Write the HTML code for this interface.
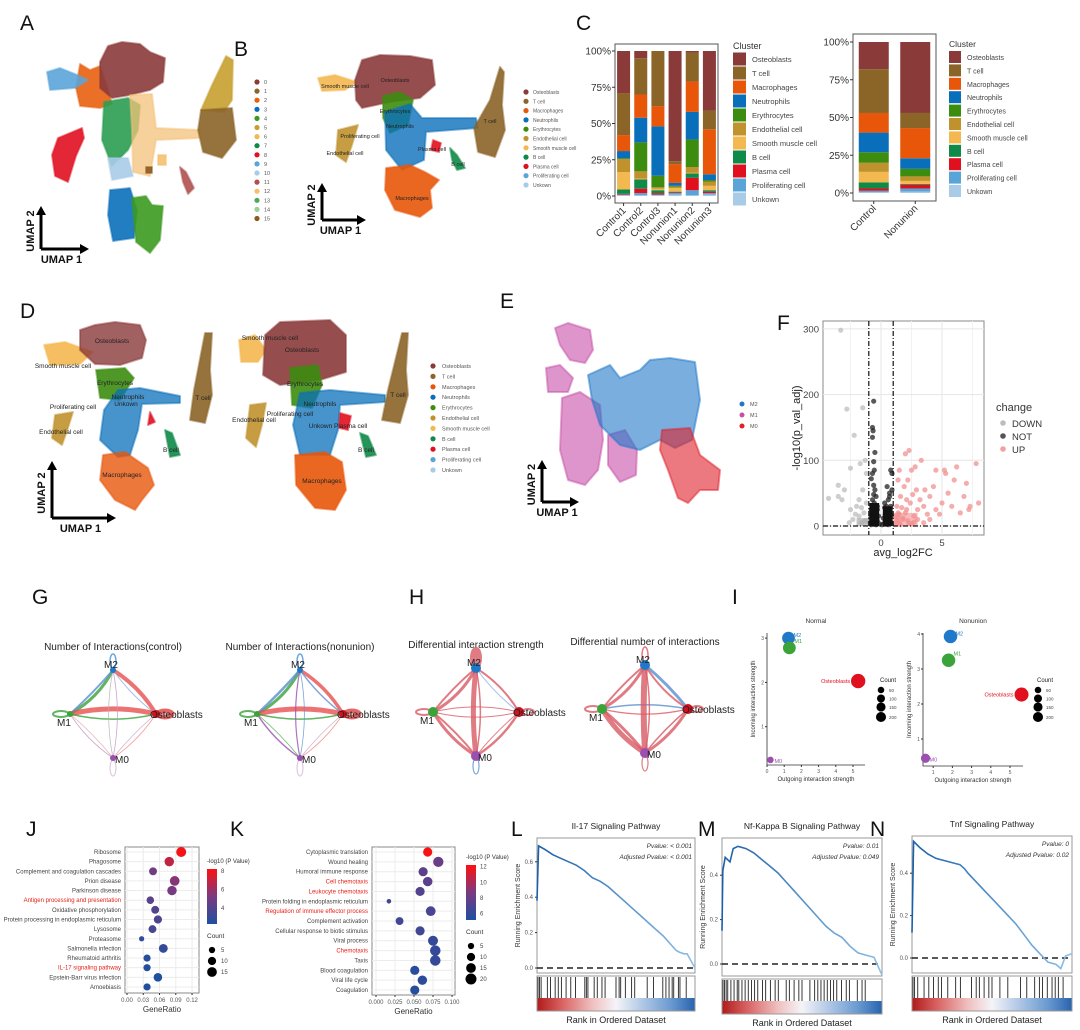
<!DOCTYPE html>
<html><head><meta charset="utf-8"><title>Figure</title>
<style>
html,body{margin:0;padding:0;background:#fff;}
svg{display:block;font-family:"Liberation Sans",Arial,sans-serif;}
</style></head>
<body>
<svg id="fig" width="1080" height="1030" viewBox="0 0 1080 1030" xmlns="http://www.w3.org/2000/svg">
<defs>
<linearGradient id="rankGrad" x1="0" x2="1" y1="0" y2="0">
<stop offset="0" stop-color="#b01c1c"/><stop offset="0.15" stop-color="#d86060"/><stop offset="0.35" stop-color="#f0c0c0"/><stop offset="0.5" stop-color="#f4f4f8"/><stop offset="0.65" stop-color="#b8cce8"/><stop offset="0.85" stop-color="#6a9ad0"/><stop offset="1" stop-color="#2a64b0"/>
</linearGradient>
<linearGradient id="cbJ" x1="0" x2="0" y1="1" y2="0"><stop offset="0" stop-color="#1f4fa0"/><stop offset="0.5" stop-color="#7a3a80"/><stop offset="1" stop-color="#ff1010"/></linearGradient>
</defs>
<g id="labels" font-size="21" fill="#111">
<text x="20" y="30">A</text>
<text x="234" y="56">B</text>
<text x="576" y="30">C</text>
<text x="20" y="318">D</text>
<text x="500" y="308">E</text>
<text x="777" y="330">F</text>
<text x="32" y="604">G</text>
<text x="409" y="604">H</text>
<text x="732" y="604">I</text>
<text x="26" y="836">J</text>
<text x="230" y="836">K</text>
<text x="511" y="836">L</text>
<text x="698" y="836">M</text>
<text x="870" y="836">N</text>
</g>
<g id="umaps"></g>
<g id="panelC"></g>
<g id="panelF"></g>
<g id="panelGH"></g>
<g id="panelI"></g>
<g id="panelJK"></g>
<g id="panelLMN"></g>
</svg>
<script>
// ---------- Data: Panel C ----------
const clusterNames = ["Osteoblasts","T cell","Macrophages","Neutrophils","Erythrocytes","Endothelial cell","Smooth muscle cell","B cell","Plasma cell","Proliferating cell","Unkown"];
const sampleNames = ["Control1","Control2","Control3","Nonunion1","Nonunion2","Nonunion3"];
const pctControl1 = [29,29,11,5,0.5,9,12,3,0.5,0.5,0.5];
const pctControl2 = [5,25,16,17,20,5,0.5,6.5,3,1.5,0.5];
const pctControl3 = [0,38,14,34,8,1,1,2,1,0.5,0.5];
const pctNonunion1 = [76,2,13,2,0.5,1,2.5,0.5,0.5,1,1];
const pctNonunion2 = [1,20,21,19,19,4,0.5,3,8.5,3.5,0.5];
const pctNonunion3 = [41,13,31,4,1,3,3,1,1,1,1];
const groupNames = ["Control","Nonunion"];
const pctControl = [18,29,13,13,7,6,7,4,1.5,1,0.5];
const pctNonunion = [47,10,20,7,5,3,2,0.5,2.5,2,1];
const pctTicks = [0,25,50,75,100];
// ---------- Data: Panel F ----------
const upX = [1.5,1.8,2,2.2,1.3,1.6,2.4,2.7,3,3.2,2.9,3.5,3.8,4,4.3,4.5,5,5.3,5.5,6,6.2,6.5,7,7.3,7.8,8,1.4,1.5,2,2.3,2.5,2.8,3.3,4.5,5.2,1.2,1.4,1.7,2.1,2.6,3.6,4.8,5.8,6.8,1.9,2.2,7.2,3,4,1.6,2.5,3.5,1.3,1.5,1.8,2.1,1.2,1.4,2.3,2.7];
const upY = [5,12,20,8,30,45,35,15,25,40,55,30,18,45,60,25,35,80,50,70,90,20,65,30,95,35,70,85,110,115,85,90,100,85,85,15,20,28,40,48,55,18,30,45,60,70,25,10,10,2,3,5,8,18,10,25,3,12,4,6];
const downX = [-3.3,-2.8,-1.5,-2.2,-2.5,-1.7,-3.5,-3.5,-4.3,-3,-2.5,-2,-1.8,-1.5,-1.3,-1.2,-1.8,-2.3,-1.4,-2.6,-1.6,-3.2,-1.2,-1.3,-1.6,-2.1];
const downY = [298,178,180,138,88,95,62,45,42,55,25,30,40,55,100,80,15,10,20,5,5,40,35,8,28,18];
const notX = [-0.6,-0.7,-0.65,-0.7,-0.5,-0.6,-0.55,-0.7,-0.8,-0.6,-0.5,-0.4,-0.7,-0.3,-0.8,-0.5,-0.2,-0.6,-0.9,-0.4,-0.1,0.1,0.3,0.5,0.7,0.4,0.8,0.6,0.3,0.9,0.7,0.8,0.9,0.5,0.2,-0.3,0.6,-0.65,-0.45,0.45,-0.75,-0.55,-0.35,-0.85,0.35,0.55,0.75,0.85,-0.6,-0.4,0.5,0.65,-0.7,-0.5,0.4,0.6,-0.8,0.8,-0.3,0.3,-0.6,0.7];
const notY = [190,150,145,135,112,98,85,80,72,62,55,45,40,30,25,20,15,10,5,5,3,2,5,10,15,20,30,40,35,55,50,85,80,60,12,8,25,30,25,30,18,35,15,12,18,22,8,15,3,2,3,5,8,12,6,2,2,5,25,28,48,45];
const volXTicks = [0,5];
const volYTicks = [0,100,200,300];
// ---------- Data: Panel I ----------
const popNames = ["M2","M1","Osteoblasts","M0"];
const normalOut = [1.25,1.3,5.3,0.2];
const normalIn = [3.0,2.78,2.03,0.25];
const normalCount = [150,150,200,20];
const nonunionOut = [1.9,1.8,5.6,0.6];
const nonunionIn = [3.93,3.25,2.27,0.45];
const nonunionCount = [170,170,190,60];
// ---------- Data: Panel J ----------
const termsJ = ["Ribosome","Phagosome","Complement and coagulation cascades","Prion disease","Parkinson disease","Antigen processing and presentation","Oxidative phosphorylation","Protein processing in endoplasmic reticulum","Lysosome","Proteasome","Salmonella infection","Rheumatoid arthritis","IL-17 signaling pathway","Epstein-Barr virus infection","Amoebiasis"];
const ratioJ = [0.10,0.078,0.048,0.088,0.083,0.043,0.052,0.057,0.047,0.027,0.067,0.037,0.037,0.057,0.037];
const pvalJ = [8,6.8,5,5.5,5.2,4.2,4,3.8,3.6,3,3,2.5,2.5,2.4,2.4];
const countJ = [16,14,9,15,14,8,9,10,9,3,12,7,7,11,7];
const redJ = ["Antigen processing and presentation","IL-17 signaling pathway"];
const xTicksJ = [0,0.03,0.06,0.09,0.12];
// ---------- Data: Panel K ----------
const termsK = ["Cytoplasmic translation","Wound healing","Humoral immune response","Cell chemotaxis","Leukocyte chemotaxis","Protein folding in endoplasmic reticulum","Regulation of immune effector process","Complement activation","Cellular response to biotic stimulus","Viral process","Chemotaxis","Taxis","Blood coagulation","Viral life cycle","Coagulation"];
const ratioK = [0.068,0.082,0.062,0.068,0.058,0.017,0.072,0.031,0.058,0.075,0.078,0.078,0.051,0.061,0.051];
const pvalK = [12,8,7.5,7.5,7.2,6.5,6.8,6.5,6.5,6,6,6,5.6,5.7,5.5];
const countK = [13,17,13,14,13,2,15,9,13,16,18,18,13,14,13];
const redK = ["Cell chemotaxis","Leukocyte chemotaxis","Regulation of immune effector process","Chemotaxis"];
const xTicksK = [0,0.025,0.05,0.075,0.1];
// ---------- Data: Panels L M N ----------
const esPosL = [0,0.01,0.05,0.1,0.15,0.2,0.25,0.3,0.35,0.4,0.45,0.5,0.55,0.6,0.65,0.7,0.75,0.8,0.85,0.88,0.9,0.93,0.95,1.0];
const esValL = [0.38,0.69,0.67,0.64,0.62,0.6,0.58,0.55,0.51,0.49,0.46,0.42,0.38,0.34,0.30,0.26,0.22,0.18,0.13,0.10,0.09,0.08,0.08,0.0];
const esPosM = [0,0.005,0.02,0.05,0.07,0.1,0.15,0.2,0.25,0.3,0.35,0.4,0.45,0.5,0.55,0.6,0.65,0.7,0.75,0.8,0.85,0.9,0.95,1];
const esValM = [0.15,0.42,0.48,0.46,0.52,0.53,0.52,0.5,0.47,0.44,0.41,0.37,0.33,0.29,0.25,0.21,0.17,0.14,0.12,0.08,0.05,0.04,0.03,-0.05];
const esPosN = [0,0.01,0.05,0.1,0.15,0.2,0.25,0.3,0.33,0.35,0.4,0.45,0.5,0.55,0.6,0.65,0.7,0.75,0.8,0.85,0.9,0.93,0.96,1];
const esValN = [0.12,0.55,0.52,0.49,0.47,0.46,0.45,0.44,0.42,0.4,0.36,0.32,0.28,0.24,0.2,0.16,0.11,0.06,0.02,-0.02,-0.03,-0.05,0.01,0.02];
const hitsL = [0.0,0.01,0.02,0.06,0.08,0.11,0.13,0.15,0.18,0.21,0.24,0.3,0.31,0.32,0.36,0.38,0.41,0.43,0.5,0.52,0.53,0.56,0.6,0.62,0.7,0.74,0.8,0.82,0.84,0.86,0.87,0.9,0.91,0.95];
const hitsM = [0,0.01,0.02,0.03,0.05,0.07,0.09,0.1,0.12,0.14,0.16,0.18,0.2,0.22,0.25,0.27,0.3,0.33,0.35,0.4,0.42,0.45,0.48,0.5,0.55,0.58,0.6,0.62,0.64,0.66,0.68,0.7,0.72,0.75,0.78,0.8,0.85,0.88,0.9];
const hitsN = [0,0.01,0.03,0.07,0.1,0.13,0.16,0.18,0.22,0.27,0.3,0.37,0.4,0.42,0.45,0.48,0.5,0.55,0.6,0.68,0.72,0.77,0.8,0.82,0.85,0.88,0.9,0.92,0.95];

const NS = "http://www.w3.org/2000/svg";
function mk(tag, attrs, parent){ const e=document.createElementNS(NS,tag); for(const k in attrs) e.setAttribute(k,attrs[k]); parent.appendChild(e); return e; }
function tx(parent,x,y,s,size,opts){ const o=Object.assign({x:x,y:y,'font-size':size,fill:'#333'},opts||{}); const e=mk('text',o,parent); e.textContent=s; return e; }

const clusterColors = ["#8b3a3a","#8b6428","#e8560a","#0a6fba","#3c8c0f","#c0922e","#f4b850","#0f8a48","#e0101e","#5ba4d8","#a8cce8"];

// ---------- UMAPs ----------
const U = document.getElementById('umaps');
function blob(pts,color,name,op){ const d='M'+pts.map(p=>p.join(',')).join(' L')+' Z';
  const e=mk('path',{d:d,fill:color,stroke:color,'stroke-width':2,'stroke-linejoin':'round','fill-opacity':op||0.9,'stroke-opacity':0.5},U);
  
  
  return e; }
function arrows(x,y,lenV,lenH){
  const g=mk('g',{},U);
  
  
  mk('path',{d:`M${x},${y} L${x},${y-lenV} M${x},${y} L${x+lenH},${y}`,stroke:'#000','stroke-width':3,fill:'none'},g);
  mk('path',{d:`M${x-5},${y-lenV+2} L${x},${y-lenV-7} L${x+5},${y-lenV+2} Z`,fill:'#000'},g);
  mk('path',{d:`M${x+lenH-2},${y-5} L${x+lenH+7},${y} L${x+lenH-2},${y+5} Z`,fill:'#000'},g);
  tx(g,x+lenH/2,y+14,'UMAP 1',11,{'font-weight':'bold','text-anchor':'middle',fill:'#111'});
  tx(g,x-7,y-lenV/2,'UMAP 2',11,{'font-weight':'bold','text-anchor':'middle',fill:'#111',transform:`rotate(-90 ${x-7} ${y-lenV/2})`});
}
function lbl(s,x,y,fs,name){ const e=tx(U,x,y,s,fs,{'text-anchor':'middle',fill:'#222'});
  
   }
// Panel A
blob([[80,64],[90,70],[100,66],[108,90],[112,104],[100,108],[80,106],[76,88]],"#e8600f","umap-a-cluster-2");
blob([[47,72],[60,68],[75,74],[88,80],[75,88],[50,90]],"#5ba4d8","umap-a-cluster-9");
blob([[100,62],[108,46],[122,42],[140,44],[150,52],[165,58],[163,82],[150,90],[130,95],[112,98],[100,88]],"#8b3a3a","umap-a-cluster-0");
blob([[104,102],[128,98],[140,105],[138,130],[128,150],[112,166],[102,140]],"#2a9d50","umap-a-cluster-7");
blob([[130,95],[152,94],[156,128],[200,130],[200,138],[156,140],[150,176],[133,172],[132,130]],"#f4c27a","umap-a-cluster-6",0.75);
blob([[226,56],[233,60],[232,100],[224,112],[201,110],[212,85]],"#c8a030","umap-a-cluster-5");
blob([[201,110],[232,108],[236,140],[222,158],[203,152],[198,130]],"#8b6428","umap-a-cluster-1");
blob([[58,138],[82,128],[84,138],[76,156],[68,182],[55,176],[52,155]],"#e01020","umap-a-cluster-8");
blob([[108,158],[128,158],[133,176],[112,180]],"#a8cce8","umap-a-cluster-10");
blob([[110,190],[130,188],[137,210],[134,238],[113,241],[108,215]],"#0a6fba","umap-a-cluster-3");
blob([[132,198],[146,196],[152,205],[163,206],[160,240],[150,253],[136,242]],"#3c9a20","umap-a-cluster-4");
blob([[180,167],[186,172],[194,188],[188,194],[183,182]],"#b05050","umap-a-cluster-11");
blob([[158,155],[166,155],[166,165],[158,165]],"#f4c070","umap-a-cluster-12");
blob([[146,167],[152,167],[152,173],[146,173]],"#8b5a20","umap-a-cluster-15");
arrows(41,249,36,41);
const aLegendColors=["#8b3a3a","#8b6428","#e8600f","#0a6fba","#3c9a20","#c8a030","#f4b850","#0f8a48","#e01020","#5ba4d8","#a8cce8","#b05050","#f4c070","#4aaa5a","#9ad09a","#8b5a20"];
for(let i=0;i<16;i++){ const g=mk('g',{},U);
  
  
  mk('circle',{cx:257,cy:82+i*9.1,r:2.6,fill:aLegendColors[i]},g); tx(g,264,84+i*9.1,String(i),5.5,{fill:'#555'}); }
// Panel B
blob([[318,78],[335,75],[357,82],[345,90],[322,91]],"#f4b850","umap-b-smooth-muscle");
blob([[355,80],[362,60],[380,55],[410,56],[432,60],[435,85],[420,98],[390,102],[362,108],[356,100]],"#8b3a3a","umap-b-osteoblasts");
blob([[383,96],[400,92],[413,100],[408,125],[390,133],[383,118]],"#3c8c0f","umap-b-erythrocytes");
blob([[385,112],[410,104],[422,118],[476,118],[478,128],[426,132],[424,160],[402,170],[386,150]],"#0a6fba","umap-b-neutrophils",0.8);
blob([[500,67],[504,72],[502,105],[505,130],[495,157],[478,152],[474,128],[490,100]],"#8b6428","umap-b-t-cell");
blob([[338,130],[358,125],[352,145],[346,162],[336,155]],"#c0922e","umap-b-endothelial");
blob([[386,168],[410,165],[425,172],[439,180],[430,190],[432,208],[420,217],[395,210],[385,190]],"#e8560a","umap-b-macrophages");
blob([[433,140],[441,143],[439,152],[431,150]],"#e0101e","umap-b-plasma");
blob([[450,148],[457,155],[465,168],[457,170],[452,160]],"#0f8a48","umap-b-b-cell");
arrows(322,220,30,37);
const bLab=[["Osteoblasts",395,82],["Smooth muscle cell",345,88],["Erythrocytes",395,113],["Neutrophils",400,128],["T cell",490,123],["Proliferating cell",360,138],["Endothelial cell",345,155],["Plasma cell",432,151],["B cell",458,166],["Macrophages",412,200]];
for(const l of bLab) lbl(l[0],l[1],l[2],5.5,'umap-b-cluster-label');
for(let i=0;i<11;i++){ const g=mk('g',{},U);
  
  
  mk('circle',{cx:526,cy:92+i*9.3,r:2.6,fill:clusterColors[i]},g); tx(g,533,94+i*9.3,clusterNames[i],5,{fill:'#555'}); }
// Panel D left
blob([[44,345],[65,342],[93,352],[80,364],[50,365]],"#f4b850","umap-d-smooth-muscle");
blob([[80,330],[95,325],[115,322],[140,325],[146,340],[142,358],[120,365],[95,364],[80,350]],"#8b3a3a","umap-d-osteoblasts",0.8);
blob([[96,370],[125,368],[134,378],[120,400],[100,398]],"#3c8c0f","umap-d-erythrocytes");
blob([[118,390],[140,388],[180,396],[180,403],[142,404],[138,430],[130,455],[118,457],[100,440],[104,410]],"#0a6fba","umap-d-neutrophils",0.75);
blob([[205,333],[212,333],[210,370],[212,395],[205,423],[190,420],[194,390]],"#8b6428","umap-d-t-cell");
blob([[55,415],[73,412],[68,428],[62,445],[52,438]],"#c0922e","umap-d-endothelial");
blob([[103,455],[125,452],[148,468],[154,485],[142,500],[135,510],[115,500],[100,480]],"#e8560a","umap-d-macrophages",0.8);
blob([[165,430],[172,433],[180,455],[170,457]],"#0f8a48","umap-d-b-cell");
blob([[150,412],[155,422],[148,425]],"#e0101e","umap-d-plasma");
// Panel D right
blob([[239,340],[255,335],[266,350],[258,362],[241,362]],"#f4b850","umap-d2-smooth-muscle");
blob([[265,335],[280,322],[330,320],[346,335],[346,372],[320,380],[280,385],[263,375]],"#8b3a3a","umap-d2-osteoblasts");
blob([[290,368],[318,365],[322,385],[312,408],[292,405]],"#3c8c0f","umap-d2-erythrocytes");
blob([[300,393],[330,390],[385,395],[385,402],[340,405],[338,430],[330,455],[300,455],[293,425]],"#0a6fba","umap-d2-neutrophils",0.75);
blob([[402,333],[408,333],[406,370],[408,395],[400,423],[382,420],[388,390]],"#8b6428","umap-d2-t-cell");
blob([[250,405],[266,403],[262,425],[256,447],[246,438]],"#c0922e","umap-d2-endothelial");
blob([[295,455],[325,452],[342,462],[346,490],[335,510],[315,508],[296,485]],"#e8560a","umap-d2-macrophages");
blob([[360,433],[368,436],[376,455],[366,457]],"#0f8a48","umap-d2-b-cell");
blob([[340,413],[351,416],[348,430],[339,428]],"#e0101e","umap-d2-plasma");
const dLabL=[["Osteoblasts",112,343],["Smooth muscle cell",63,368],["Erythrocytes",115,385],["Neutrophils",128,399],["Unkown",126,406],["Proliferating cell",73,409],["Endothelial cell",61,434],["T cell",203,400],["B cell",171,452],["Macrophages",122,477]];
for(const l of dLabL) lbl(l[0],l[1],l[2],6.5,'umap-d-cluster-label');
const dLabR=[["Osteoblasts",302,352],["Smooth muscle cell",270,340],["Erythrocytes",305,386],["Neutrophils",320,406],["Proliferating cell",290,416],["Endothelial cell",254,422],["Unkown Plasma cell",338,428],["T cell",398,397],["B cell",366,452],["Macrophages",322,483]];
for(const l of dLabR) lbl(l[0],l[1],l[2],6.5,'umap-d2-cluster-label');
arrows(52,518,50,57);
for(let i=0;i<11;i++){ const g=mk('g',{},U);
  
  
  mk('circle',{cx:433,cy:366+i*10.4,r:2.6,fill:clusterColors[i]},g); tx(g,442,368+i*10.4,clusterNames[i],5.5,{fill:'#555'}); }
// Panel E
blob([[555,328],[568,323],[590,330],[593,350],[585,363],[570,360],[560,345]],"#c84fa8","umap-e-m1-top",0.6);
blob([[546,368],[560,365],[573,378],[568,392],[548,392]],"#c84fa8","umap-e-m1-left",0.6);
blob([[562,398],[580,392],[600,405],[603,440],[598,470],[585,485],[568,480],[560,450]],"#c84fa8","umap-e-m1",0.6);
blob([[608,435],[625,430],[637,450],[636,475],[620,482],[608,465]],"#c84fa8","umap-e-m1-lower",0.6);
blob([[588,375],[610,365],[620,378],[640,370],[650,360],[670,358],[695,362],[700,400],[692,440],[675,448],[660,440],[640,450],[620,445],[600,425],[592,400]],"#1f78c8","umap-e-m2",0.6);
blob([[662,430],[690,428],[700,455],[720,470],[718,490],[700,490],[688,503],[678,498],[668,470],[660,450]],"#e0202a","umap-e-m0",0.6);
arrows(542,502,35,30);
const eLeg=[["M2","#1f78c8"],["M1","#c84fa8"],["M0","#e0202a"]];
for(let i=0;i<3;i++){ const g=mk('g',{},U);
  
  
  mk('circle',{cx:742,cy:404+i*11,r:2.5,fill:eLeg[i][1]},g); tx(g,750,406+i*11,eLeg[i][0],5.5,{fill:'#555'}); }

// ---------- Panel C ----------
const C = document.getElementById('panelC');
function stacked(samples, data, x0, x1, yTop, yBot, frameTop, frameBot, barW, fs){
  mk('rect',{x:x0,y:frameTop,width:x1-x0,height:frameBot-frameTop,fill:'#fff',stroke:'#555','stroke-width':1},C);
  const n=samples.length, step=(x1-x0)/n;
  const ys=p=>yBot-(yBot-yTop)*p/100;
  for(const t of pctTicks){ tx(C,x0-4,ys(t)+3.5,t+'%',fs,{'text-anchor':'end',fill:'#333'}); mk('line',{x1:x0-3,x2:x0,y1:ys(t),y2:ys(t),stroke:'#333'},C); }
  samples.forEach((s,i)=>{
    const cx=x0+step*(i+0.5); let cum=0; const vals=data[i];
    for(let k=vals.length-1;k>=0;k--){ const r=mk('rect',{x:cx-barW/2,y:ys(cum+vals[k]),width:barW,height:ys(cum)-ys(cum+vals[k]),fill:clusterColors[k]},C);
      
      
      cum+=vals[k]; }
    mk('line',{x1:cx,x2:cx,y1:frameBot,y2:frameBot+3,stroke:'#333'},C);
    const t=tx(C,cx+3,frameBot+8,s,fs,{'text-anchor':'end',fill:'#333',transform:`rotate(-45 ${cx+3} ${frameBot+8})`});
    
    
  });
}
stacked(sampleNames,[pctControl1,pctControl2,pctControl3,pctNonunion1,pctNonunion2,pctNonunion3],615,718,51,196,44,203,13,10);
stacked(groupNames,[pctControl,pctNonunion],853,936,42,193,34,201,30,10);
function cLegend(x,y0,step,sz,fs){
  tx(C,x,y0-10,'Cluster',fs+1.5,{fill:'#333'});
  clusterNames.forEach((n,i)=>{ const g=mk('g',{},C);
    
    
    mk('rect',{x:x,y:y0+i*step-sz/2,width:sz,height:sz,fill:clusterColors[i]},g);
    tx(g,x+sz+6,y0+i*step+3,n,fs,{fill:'#444'}); });
}
cLegend(733,59,14,13,7.5); cLegend(949,57,13.4,12,7);

// ---------- Panel F ----------
const F = document.getElementById('panelF');
const fx0=823,fx1=984,fy0=321,fy1=535;
const vx=v=>881+v*12.2, vy=v=>526-v*0.657;
mk('rect',{x:fx0,y:fy0,width:fx1-fx0,height:fy1-fy0,fill:'#fff',stroke:'#888'},F);
for(const t of [-2.5,2.5,7.5]) mk('line',{x1:vx(t),x2:vx(t),y1:fy0,y2:fy1,stroke:'#f2f2f2'},F);
for(const t of volXTicks) mk('line',{x1:vx(t),x2:vx(t),y1:fy0,y2:fy1,stroke:'#e6e6e6'},F);
for(const t of volYTicks){ mk('line',{x1:fx0,x2:fx1,y1:vy(t),y2:vy(t),stroke:'#e6e6e6'},F); tx(F,fx0-4,vy(t)+3.5,String(t),9.5,{'text-anchor':'end',fill:'#444'}); }
for(const t of volXTicks) tx(F,vx(t),fy1+11,String(t),9.5,{'text-anchor':'middle',fill:'#444'});
function pts(X,Y,col,name){ for(let i=0;i<X.length;i++){ const c=mk('circle',{cx:vx(X[i]),cy:vy(Y[i]),r:2.6,fill:col,'fill-opacity':0.75},F);
  
   } }
pts(downX,downY,'#bdbdbd','point-down');
pts(upX,upY,'#f29090','point-up');
pts(notX,notY,'#222','point-not');
mk('rect',{x:vx(-0.95),y:vy(35),width:vx(-0.15)-vx(-0.95),height:vy(0)-vy(35),fill:'#111'},F);
mk('rect',{x:vx(0.15),y:vy(30),width:vx(0.95)-vx(0.15),height:vy(0)-vy(30),fill:'#111'},F);
mk('rect',{x:vx(-2),y:vy(12),width:vx(-1)-vx(-2),height:vy(0)-vy(12),fill:'#aaa','fill-opacity':0.7},F);
mk('rect',{x:vx(1),y:vy(20),width:vx(3)-vx(1),height:vy(0)-vy(20),fill:'#f29090','fill-opacity':0.6},F);
for(const t of [-1,1]) mk('line',{x1:vx(t),x2:vx(t),y1:fy0,y2:fy1,stroke:'#111','stroke-dasharray':'5,2,1,2','stroke-width':1.2},F);
mk('line',{x1:fx0,x2:fx1,y1:vy(0),y2:vy(0),stroke:'#111','stroke-dasharray':'5,2,1,2','stroke-width':1.2},F);
tx(F,903,556,'avg_log2FC',11,{'text-anchor':'middle',fill:'#222'});
tx(F,800,428,'-log10(p_val_adj)',11,{'text-anchor':'middle',fill:'#222',transform:'rotate(-90 800 428)'});
tx(F,996,411,'change',11,{fill:'#333'});
[['DOWN','#bdbdbd'],['NOT','#555'],['UP','#f4a0a0']].forEach((d,i)=>{ const g=mk('g',{},F);
  
  
  mk('circle',{cx:1003,cy:423+i*13,r:2.8,fill:d[1]},g); tx(g,1012,427+i*13,d[0],9.5,{fill:'#333'}); });

// ---------- Panels G/H networks ----------
const G = document.getElementById('panelGH');
const nodeCol={M2:'#1f78c8',M1:'#3aa33a',Ost:'#d0101e',M0:'#9b4fb0'};
function net(cx,cy,title,edges,loops,sizes){
  const P={M2:[cx,cy-44],M1:[cx-43,cy],Ost:[cx+43,cy],M0:[cx,cy+44]};
  const g=mk('g',{},G);
  
  
  tx(g,cx,cy-64,title,10,{'text-anchor':'middle',fill:'#222'});
  for(const e of edges){ const a=P[e[0]],b=P[e[1]]; const mx=(a[0]+b[0])/2,my=(a[1]+b[1])/2; const dx=b[0]-a[0],dy=b[1]-a[1];
    const qx=mx-dy*e[4], qy=my+dx*e[4];
    const p=mk('path',{d:`M${a[0]},${a[1]} Q${qx},${qy} ${b[0]},${b[1]}`,fill:'none',stroke:e[2],'stroke-width':e[3],'stroke-opacity':0.8},g);
    
     }
  for(const l of loops){ const a=P[l[0]]; const d=l[3];
    mk('ellipse',{cx:a[0]+d[0],cy:a[1]+d[1],rx:d[2],ry:d[3],fill:'none',stroke:l[1],'stroke-width':l[2],'stroke-opacity':0.8},g); }
  for(const k in P){ const c=mk('circle',{cx:P[k][0],cy:P[k][1],r:sizes[k],fill:nodeCol[k]},g);
    
     }
  tx(g,P.M2[0]-2,P.M2[1]-2,'M2',10,{'text-anchor':'middle',fill:'#222'});
  tx(g,P.M1[0]-6,P.M1[1]+12,'M1',10,{'text-anchor':'middle',fill:'#222'});
  tx(g,P.Ost[0]-6,P.Ost[1]+4,'Osteoblasts',10,{fill:'#222'});
  tx(g,P.M0[0]+2,P.M0[1]+5,'M0',10,{fill:'#222'});
}
net(113,714,'Number of Interactions(control)',[
 ['M1','M2','#3aa33a',3,0.15],['M1','M2','#5a8fd0',2,0.03],['M2','Ost','#e85050',4,-0.12],['M2','Ost','#8ab0e0',1,0.08],
 ['M1','Ost','#e85050',5,-0.12],['M1','Ost','#3aa33a',1.5,0.12],['M1','M0','#c090c0',0.8,0.1],['M1','M0','#e0a0a0',0.8,-0.05],
 ['M2','M0','#b0b0b0',0.8,0.1],['M2','M0','#c090c0',0.8,-0.1],['Ost','M0','#f08080',0.8,-0.1],['Ost','M0','#c0a0c0',0.8,0.05]],
 [['M2','#4a90d8',1.5,[0,-9,3,7]],['M1','#3aa33a',2,[-9,0,8,3]],['Ost','#e04040',5,[9,0,7,3]],['M0','#d0b0d0',1,[0,10,3,8]]],
 {M2:3,M1:3,Ost:4,M0:3});
net(300,714,'Number of Interactions(nonunion)',[
 ['M1','M2','#3aa33a',3,0.15],['M1','M2','#5a8fd0',2.5,0.03],['M2','Ost','#e85050',3.5,-0.12],['M2','Ost','#5a8fd0',1.5,0.08],
 ['M1','Ost','#e85050',5,-0.12],['M1','Ost','#3aa33a',1.5,0.12],['M1','M0','#9b4fb0',1.5,0.1],['M1','M0','#3aa33a',0.8,-0.05],
 ['M2','M0','#9b4fb0',1.2,0.1],['M2','M0','#5a8fd0',0.8,-0.1],['Ost','M0','#f08080',0.8,-0.1],['Ost','M0','#c0a0c0',0.8,0.05]],
 [['M2','#4a90d8',1.5,[0,-9,3,7]],['M1','#3aa33a',2,[-9,0,8,3]],['Ost','#e04040',5,[9,0,7,3]],['M0','#d0b0d0',1,[0,10,3,8]]],
 {M2:3,M1:3,Ost:4,M0:3});
net(476,712,'Differential interaction strength',[
 ['M1','M2','#d85a64',3,0.15],['M1','M2','#d85a64',2,-0.05],['M2','Ost','#d85a64',2,-0.12],['M2','Ost','#8ab0e0',1,0.08],
 ['M1','Ost','#d85a64',1,-0.12],['M1','Ost','#d85a64',1,0.12],['M1','M0','#d85a64',3,0.12],['M1','M0','#d85a64',2,-0.05],
 ['M2','M0','#d85a64',5,0.06],['M2','M0','#d85a64',1.5,-0.1],['Ost','M0','#d85a64',2.5,-0.12],['Ost','M0','#d85a64',1,0.05]],
 [['M2','#d85a64',6,[0,-10,3,8]],['M1','#d85a64',2,[-9,0,8,3]],['Ost','#d85a64',2,[9,0,6,3]],['M0','#5a8fd0',1.2,[0,10,3,8]]],
 {M2:5,M1:5,Ost:5,M0:5});
net(645,709,'Differential number of interactions',[
 ['M1','M2','#d85a64',3,0.15],['M1','M2','#d85a64',2,-0.05],['M2','Ost','#5a8fd0',3,-0.05],['M2','Ost','#d85a64',2,0.12],
 ['M1','Ost','#5a8fd0',1.5,-0.1],['M1','Ost','#d85a64',1.2,0.12],['M1','M0','#d85a64',5,0.12],['M1','M0','#d85a64',3,-0.05],
 ['M2','M0','#d85a64',6,0.03],['M2','M0','#d85a64',1.5,-0.1],['Ost','M0','#d85a64',3,-0.12],['Ost','M0','#d85a64',1.5,0.05]],
 [['M2','#d85a64',1.5,[0,-10,3,8]],['M1','#d85a64',2,[-9,0,8,3]],['Ost','#d85a64',2,[9,0,6,3]],['M0','#d85a64',1.2,[0,10,3,8]]],
 {M2:5,M1:5,Ost:5,M0:5});

// ---------- Panel I ----------
const I = document.getElementById('panelI');
function scat(title,ax0,ax1,ayTop,ayBot,x0px,xUnit,y0px,yUnit,xt,yt,outs,ins,cnts,legX){
  const g=mk('g',{},I);
  
  
  tx(g,(ax0+ax1)/2,623,title,6.5,{'text-anchor':'middle',fill:'#333'});
  mk('path',{d:`M${ax0},${ayTop} L${ax0},${ayBot} L${ax1},${ayBot}`,stroke:'#333',fill:'none','stroke-width':0.8},g);
  for(const t of xt){ const x=x0px+t*xUnit; mk('line',{x1:x,x2:x,y1:ayBot,y2:ayBot+2,stroke:'#333'},g); tx(g,x,ayBot+8,String(t),5,{'text-anchor':'middle',fill:'#555'}); }
  for(const t of yt){ const y=y0px-t*yUnit; mk('line',{x1:ax0-2,x2:ax0,y1:y,y2:y,stroke:'#333'},g); tx(g,ax0-3,y+2,String(t),5,{'text-anchor':'end',fill:'#555'}); }
  tx(g,(ax0+ax1)/2,ayBot+16,'Outgoing interaction strength',6,{'text-anchor':'middle',fill:'#333'});
  tx(g,ax0-12,(ayTop+ayBot)/2,'Incoming interaction strength',6,{'text-anchor':'middle',fill:'#333',transform:`rotate(-90 ${ax0-12} ${(ayTop+ayBot)/2})`});
  const cols=['#1f78c8','#3aa33a','#e0101e','#9b4fb0'];
  const labOff=[[5,-1,'start'],[5,-5,'start'],[-8,2,'end'],[4,3,'start']];
  for(let i=0;i<popNames.length;i++){ const x=x0px+outs[i]*xUnit,y=y0px-ins[i]*yUnit; const r=1.5+Math.sqrt(cnts[i])*0.4;
    const c=mk('circle',{cx:x,cy:y,r:r,fill:cols[i]},g);
    
    
    tx(g,x+labOff[i][0],y+labOff[i][1],popNames[i],5.5,{'text-anchor':labOff[i][2],fill:cols[i]}); }
  tx(g,legX,682,'Count',6,{fill:'#222'});
  [50,100,150,200].forEach((v,i)=>{ const yy=690+i*8.5+(i==3?1.5:0); mk('circle',{cx:legX+1,cy:yy,r:1.5+Math.sqrt(v)*0.25,fill:'#000'},g); tx(g,legX+9,yy+2,String(v),4.5,{fill:'#444'}); });
}
scat('Normal',767,865,633,765,767,17.2,771,44.3,[0,1,2,3,4,5],[1,2,3],normalOut,normalIn,normalCount,880);
scat('Nonunion',923,1023,633,766,914,19.2,774,35,[1,2,3,4,5],[1,2,3,4],nonunionOut,nonunionIn,nonunionCount,1037);

// ---------- Panels J/K ----------
const JK = document.getElementById('panelJK');
function mixCol(t){ t=Math.max(0,Math.min(1,t)); const A=[31,79,160],M=[122,58,128],B=[255,16,16]; let c;
  if(t<0.5){const u=t/0.5; c=A.map((a,i)=>Math.round(a+(M[i]-a)*u));} else {const u=(t-0.5)/0.5; c=M.map((a,i)=>Math.round(a+(B[i]-a)*u));}
  return `rgb(${c[0]},${c[1]},${c[2]})`; }
function dotplot(terms,ratios,pv,cnt,reds,xt,fx0,fx1,fy0,fy1,x0px,xUnit,row0,rowStep,pmin,pmax,cbX,cbY0,cbY1,cbTicks,cntVals,cntY,tickFmt){
  const g=mk('g',{},JK);
  
  
  mk('rect',{x:fx0,y:fy0,width:fx1-fx0,height:fy1-fy0,fill:'#fff',stroke:'#888'},g);
  for(const t of xt){ const x=x0px+t*xUnit; mk('line',{x1:x,x2:x,y1:fy0,y2:fy1,stroke:'#ececec'},g); mk('line',{x1:x,x2:x,y1:fy1,y2:fy1+2,stroke:'#333'},g);
    tx(g,x,fy1+9,tickFmt(t),6,{'text-anchor':'middle',fill:'#555'}); }
  tx(g,(fx0+fx1)/2,fy1+19,'GeneRatio',8,{'text-anchor':'middle',fill:'#333'});
  terms.forEach((t,i)=>{ const y=row0+i*rowStep; mk('line',{x1:fx0,x2:fx1,y1:y,y2:y,stroke:'#ececec'},g);
    const isRed=reds.indexOf(t)>=0;
    const lab=tx(g,fx0-4,y+2,t,6,{'text-anchor':'end',fill:isRed?'#e8201a':'#444'});
    
    
    const c=mk('circle',{cx:x0px+ratios[i]*xUnit,cy:y,r:0.8+Math.sqrt(cnt[i])*1.05,fill:mixCol((pv[i]-pmin)/(pmax-pmin))},g);
    
     });
  tx(g,cbX,cbY0-6,'-log10 (P Value)',6,{fill:'#333'});
  mk('rect',{x:cbX,y:cbY0,width:10,height:cbY1-cbY0,fill:'url(#cbJ)'},g);
  for(const t of cbTicks){ const y=cbY1-(t-pmin)/(pmax-pmin)*(cbY1-cbY0); tx(g,cbX+14,y+2,String(t),6,{fill:'#444'}); }
  tx(g,cbX,cntY-6,'Count',6.5,{fill:'#333'});
  cntVals.forEach((v,i)=>{ const y=cntY+6+i*11; mk('circle',{cx:cbX+5,cy:y,r:0.8+Math.sqrt(v)*1.05,fill:'#000'},g); tx(g,cbX+14,y+2,String(v),6,{fill:'#444'}); });
}
dotplot(termsJ,ratioJ,pvalJ,countJ,redJ,xTicksJ,125,199,847,993,127,542,852,9.64,2.3,8.2,207,869,924,[4,6,8],[5,10,15],944,t=>t.toFixed(2));
dotplot(termsK,ratioK,pvalK,countK,redK,xTicksK,372,455,847,995,376,760,852,9.86,5.2,12.2,466,865,920,[6,8,10,12],[5,10,15,20],940,t=>t.toFixed(3));

// ---------- Panels L/M/N ----------
const LMN = document.getElementById('panelLMN');
function gsea(title,p1,p2,x0,x1,y0,y1,zeroY,unit,yt,pos,val,hits){
  const g=mk('g',{},LMN);
  
  
  tx(g,(x0+x1)/2,y0-9,title,8.5,{'text-anchor':'middle',fill:'#222'});
  mk('rect',{x:x0,y:y0,width:x1-x0,height:y1-y0,fill:'#fff',stroke:'#999'},g);
  for(const t of yt){ const y=zeroY-t*unit; mk('line',{x1:x0-2,x2:x0,y1:y,y2:y,stroke:'#333'},g); tx(g,x0-4,y+2,t.toFixed(1),6,{'text-anchor':'end',fill:'#555'}); }
  tx(g,x0-17,(y0+y1)/2,'Running Enrichment Score',7,{'text-anchor':'middle',fill:'#333',transform:`rotate(-90 ${x0-17} ${(y0+y1)/2})`});
  mk('line',{x1:x0,x2:x1,y1:zeroY,y2:zeroY,stroke:'#222','stroke-width':1.6,'stroke-dasharray':'6,4'},g);
  const W=x1-x0;
  let d=''; pos.forEach((p,i)=>{ d+=(i?' L':'M')+(x0+p*W).toFixed(1)+','+(zeroY-val[i]*unit).toFixed(1); });
  const lg=mk('linearGradient',{id:'esg'+x0,x1:0,x2:1,y1:0,y2:0},g);
  mk('stop',{offset:0,'stop-color':'#1a5fa8'},lg); mk('stop',{offset:1,'stop-color':'#8ec0e8'},lg);
  const ln=mk('path',{d:d,fill:'none',stroke:`url(#esg${x0})`,'stroke-width':1.6},g);
  
  
  tx(g,x1-3,y0+10,'Pvalue: '+p1,6.5,{'text-anchor':'end',fill:'#333','font-style':'italic'});
  tx(g,x1-3,y0+21,'Adjusted Pvalue: '+p2,6.5,{'text-anchor':'end',fill:'#333','font-style':'italic'});
  const sy0=y1+3, sy1=y1+38;
  mk('rect',{x:x0,y:sy0,width:W,height:sy1-sy0,fill:'#fff',stroke:'#999'},g);
  mk('rect',{x:x0+0.5,y:sy0+22,width:W-1,height:sy1-sy0-22.5,fill:'url(#rankGrad)'},g);
  for(const h of hits){ const x=x0+1+h*(W-2); const l=mk('line',{x1:x,x2:x,y1:sy0+1,y2:sy0+22,stroke:'#222','stroke-width':0.9},g);
    
     }
  tx(g,(x0+x1)/2,sy1+12,'Rank in Ordered Dataset',9,{'text-anchor':'middle',fill:'#222'});
}
gsea('Il-17 Signaling Pathway','< 0.001','< 0.001',537,695,838,973,968,177,[0,0.2,0.4,0.6],esPosL,esValL,hitsL);
gsea('Nf-Kappa B Signaling Pathway','0.01','0.049',722,882,838,976,964,222,[0,0.2,0.4],esPosM,esValM,hitsM);
gsea('Tnf Signaling Pathway','0','0.02',912,1072,836,973,958,212,[0,0.2,0.4],esPosN,esValN,hitsN);
</script>
</body></html>
